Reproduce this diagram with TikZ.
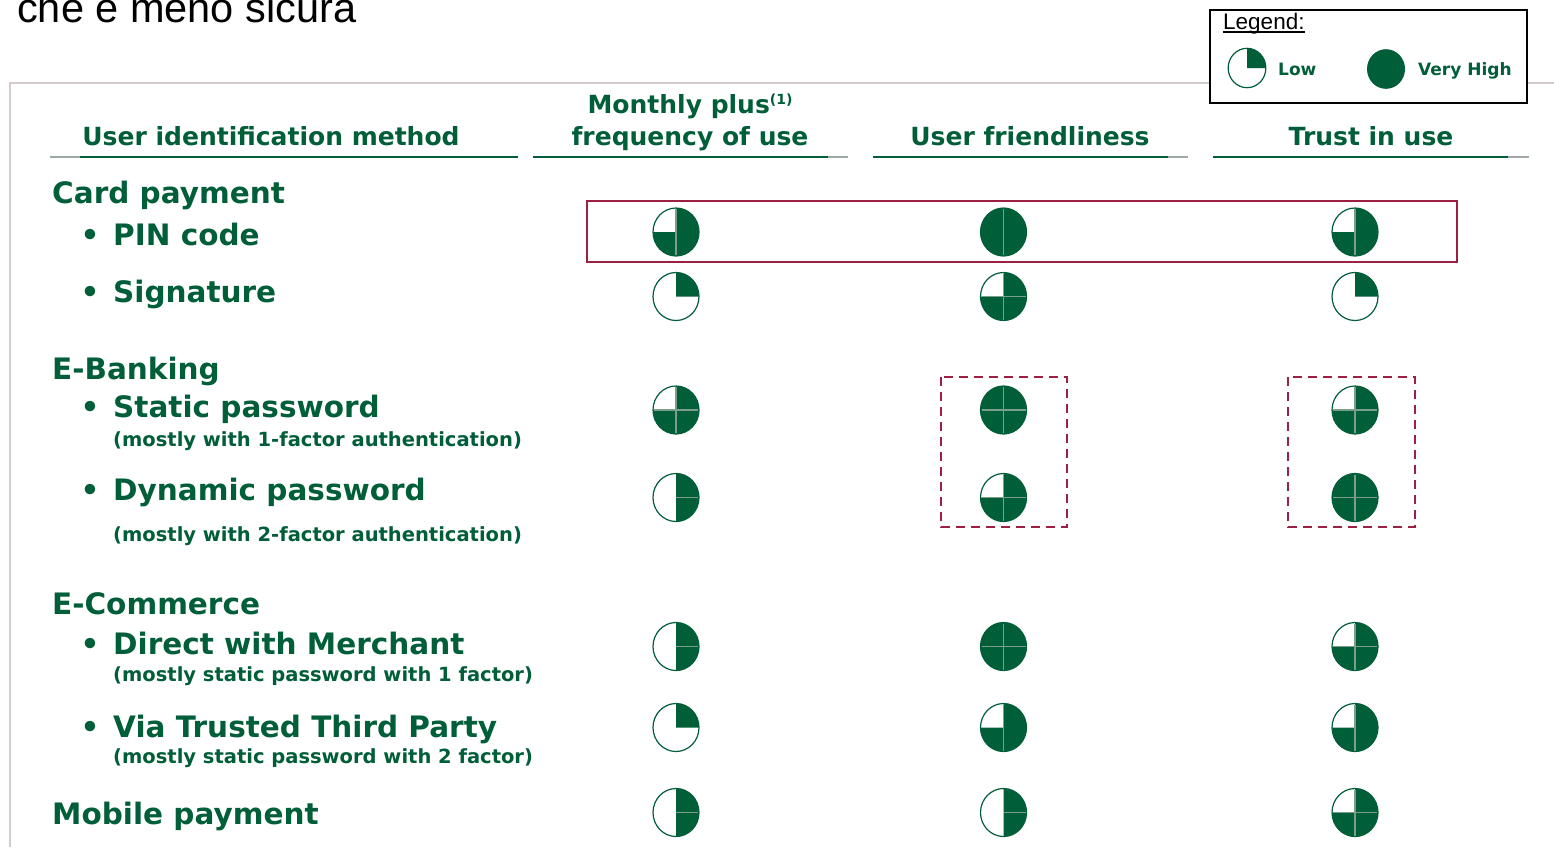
\documentclass[tikz,border=0pt]{standalone}
\usepackage{fontspec}
\setmainfont{DejaVu Sans}
\newfontfamily\afont{Liberation Sans}
\newfontfamily\vfont{DejaVu Sans}
\definecolor{hgreen}{RGB}{0,94,56}
\definecolor{hdivc}{RGB}{125,158,138}
\definecolor{boxred}{RGB}{155,32,66}
\definecolor{framec}{RGB}{212,202,205}
\definecolor{ugreyc}{RGB}{160,170,165}
\newcommand\fsec{\vfont\bfseries\fontsize{29.5}{30}\selectfont}
\newcommand\fsub{\vfont\bfseries\fontsize{19.5}{20}\selectfont}
\newcommand\fhead{\vfont\bfseries\fontsize{25}{26}\selectfont}
\newcommand\fleg{\vfont\bfseries\fontsize{17}{18}\selectfont}
\tikzset{
  lab/.style={anchor=base west, inner sep=0pt, text=hgreen},
  head/.style={anchor=base, inner sep=0pt, text=hgreen, font=\fhead},
  uline/.style={draw=hgreen, line width=2.6pt},
  ugrey/.style={draw=ugreyc, line width=2.6pt},
  hring/.style={draw=hgreen, line width=1.2pt},
  hdiv/.style={draw=hdivc, line width=1.3pt},
  redbox/.style={draw=boxred, line width=2.2pt},
  dashbox/.style={draw=boxred, line width=2pt, dash pattern=on 9pt off 6pt},
  framel/.style={draw=framec, line width=1.5pt}
}
\newcommand\hbfillq{\fill[hgreen] (0,0) -- (0,24) arc[start angle=90,end angle=0,x radius=23,y radius=24] -- cycle;}
\newcommand\hbfillh{\fill[hgreen] (0,24) arc[start angle=90,end angle=-90,x radius=23,y radius=24] -- cycle;}
\newcommand\hbfillt{\fill[hgreen] (0,0) -- (0,24) arc[start angle=90,end angle=-180,x radius=23,y radius=24] -- cycle;}
\newcommand\hbfillf{\fill[hgreen] (0,0) ellipse[x radius=23,y radius=24];}
\newcommand\hblinen{}
\newcommand\hblinev{\draw[hdiv] (0,23) -- (0,-23);}
\newcommand\hblinec{\draw[hdiv] (0,23) -- (0,-23) (-22,0) -- (22,0);}
\newcommand\hblinehr{\draw[hdiv] (0,0) -- (22,0);}
% \HB[scale]{name}{x}{y}{fill}{lines}
\newcommand\HB[6][1]{%
  \coordinate (#2) at (#3,#4);
  \begin{scope}[shift={(#3,#4)},yscale=-1,scale=#1]
    \csname hbfill#5\endcsname
    \draw[hring] (0,0) ellipse[x radius=23,y radius=24];
    \csname hbline#6\endcsname
  \end{scope}}
\begin{document}
\begin{tikzpicture}[x=1pt,y=-1pt]
\useasboundingbox (0,0) rectangle (1554,847);
\clip (0,0) rectangle (1554,847);
\fill[white] (0,0) rectangle (1554,847);

% title fragment
\node[anchor=base west, inner sep=0pt, font=\afont\fontsize{41.5}{42}\selectfont, text=black] (title) at (17,22) {che è meno sicura};

% frame
\draw[framel] (10,847) -- (10,83) -- (1554,83);

% legend
\node[draw=black, line width=1.8pt, fill=white, minimum width=317pt, minimum height=93pt, inner sep=0pt, anchor=north west] (legbox) at (1209,9) {};
\node[anchor=base west, inner sep=0pt, font=\afont\fontsize{22.5}{22}\selectfont, text=black] (legt) at (1223,29) {Legend:};
\draw[black, line width=1.2pt] ([yshift=-3pt]legt.base west) -- ([yshift=-3pt]legt.base east);
\HB[0.82]{legLow}{1247}{68}{q}{n}
\HB[0.8]{legVH}{1386}{69}{f}{n}
\node[lab, font=\fleg] (legLowT) at (1278,75) {Low};
\node[lab, font=\fleg] (legVHT) at (1418,75) {Very High};

% headers
\node[head] (hUser) at (271,145) {User identification method};
\node[head] (hFreqA) at (690,113) {Monthly plus\raisebox{9pt}{\vfont\fontsize{14}{14}\selectfont(1)}};
\node[head] (hFreqB) at (690,145) {frequency of use};
\node[head] (hUF) at (1030,145) {User friendliness};
\node[head] (hTrust) at (1371,145) {Trust in use};
\draw[uline] (50,157) -- (518,157);
\draw[ugrey] (50,157) -- (80,157);
\draw[uline] (533,157) -- (848,157);
\draw[ugrey] (828,157) -- (848,157);
\draw[uline] (873,157) -- (1188,157);
\draw[ugrey] (1168,157) -- (1188,157);
\draw[uline] (1213,157) -- (1529,157);
\draw[ugrey] (1508,157) -- (1529,157);

% row labels
\node[lab, font=\fsec] (secCard) at (52,203) {Card payment};
\node[lab, font=\fsec] (secEB) at (52,379) {E-Banking};
\node[lab, font=\fsec] (secEC) at (52,614) {E-Commerce};
\node[lab, font=\fsec] (secMob) at (52,824) {Mobile payment};

\foreach \nm/\yy in {bPin/245, bSig/302, bStat/417, bDyn/500, bDir/654, bVia/737}
  \node[anchor=base, inner sep=0pt, text=hgreen, font=\fsec] (\nm) at (90,\yy) {•};

\node[lab, font=\fsec] (itPin) at (113,245) {PIN code};
\node[lab, font=\fsec] (itSig) at (113,302) {Signature};
\node[lab, font=\fsec] (itStat) at (113,417) {Static password};
\node[lab, font=\fsub] (subStat) at (113,446) {(mostly with 1-factor authentication)};
\node[lab, font=\fsec] (itDyn) at (113,500) {Dynamic password};
\node[lab, font=\fsub] (subDyn) at (113,541) {(mostly with 2-factor authentication)};
\node[lab, font=\fsec] (itDir) at (113,654) {Direct with Merchant};
\node[lab, font=\fsub] (subDir) at (113,681) {(mostly static password with 1 factor)};
\node[lab, font=\fsec] (itVia) at (113,737) {Via Trusted Third Party};
\node[lab, font=\fsub] (subVia) at (113,763) {(mostly static password with 2 factor)};

% highlight boxes
\draw[redbox] (587,201) rectangle (1457,262);
\draw[dashbox] (941,377) rectangle (1067,527);
\draw[dashbox] (1288,377) rectangle (1415,527);

% harvey balls: columns 676, 1003.5, 1355
\HB{pinF}{676}{232}{t}{v}
\HB{pinU}{1003.5}{232}{f}{v}
\HB{pinT}{1355}{232}{t}{v}

\HB{sigF}{676}{296.5}{q}{n}
\HB{sigU}{1003.5}{296.5}{t}{c}
\HB{sigT}{1355}{296.5}{q}{n}

\HB{statF}{676}{410}{t}{c}
\HB{statU}{1003.5}{410}{f}{c}
\HB{statT}{1355}{410}{t}{c}

\HB{dynF}{676}{497.5}{h}{hr}
\HB{dynU}{1003.5}{497.5}{t}{c}
\HB{dynT}{1355}{497.5}{f}{c}

\HB{dirF}{676}{646.5}{h}{hr}
\HB{dirU}{1003.5}{646.5}{f}{c}
\HB{dirT}{1355}{646.5}{t}{c}

\HB{viaF}{676}{727.5}{q}{n}
\HB{viaU}{1003.5}{727.5}{t}{v}
\HB{viaT}{1355}{727.5}{t}{v}

\HB{mobF}{676}{812.5}{h}{hr}
\HB{mobU}{1003.5}{812.5}{h}{hr}
\HB{mobT}{1355}{812.5}{t}{c}
\end{tikzpicture}
\end{document}
